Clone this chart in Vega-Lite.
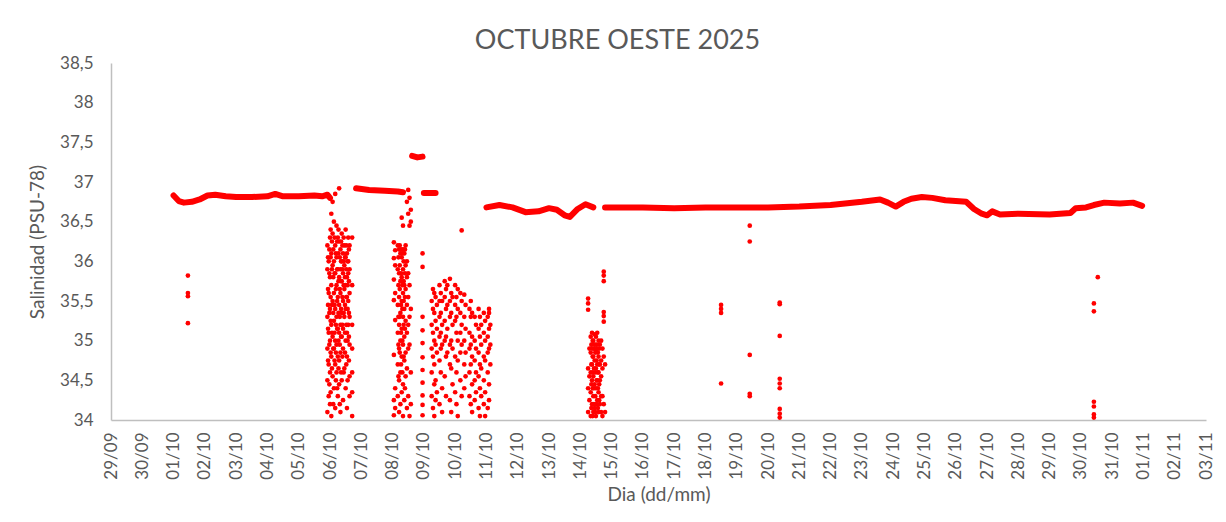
{
  "$schema": "https://vega.github.io/schema/vega-lite/v6.json",
  "width": 1095,
  "height": 357,
  "autosize": {"type": "none"},
  "padding": {"left": 111, "top": 63, "right": 20, "bottom": 102},
  "background": "white",
  "config": {
    "view": {"stroke": null},
    "font": "Lato",
    "axis": {"labelFont": "Lato", "titleFont": "Lato", "labelColor": "#595959", "titleColor": "#595959", "titleFontWeight": "normal", "grid": false, "ticks": false, "domainColor": "#BFBFBF", "domainWidth": 1.5}
  },
  "title": {"text": "OCTUBRE OESTE 2025", "anchor": "middle", "frame": "group", "dx": -41, "offset": -1, "fontSize": 27, "fontWeight": "normal", "color": "#595959", "font": "Lato"},
  "datasets": {
    "linea": [
      {"t":"2025-10-01T00:00","v":36.83,"seg":"A"},
      {"t":"2025-10-01T04:00","v":36.76,"seg":"A"},
      {"t":"2025-10-01T08:00","v":36.74,"seg":"A"},
      {"t":"2025-10-01T14:00","v":36.75,"seg":"A"},
      {"t":"2025-10-01T20:00","v":36.78,"seg":"A"},
      {"t":"2025-10-02T02:00","v":36.83,"seg":"A"},
      {"t":"2025-10-02T08:00","v":36.84,"seg":"A"},
      {"t":"2025-10-02T16:00","v":36.82,"seg":"A"},
      {"t":"2025-10-03T00:00","v":36.81,"seg":"A"},
      {"t":"2025-10-03T12:00","v":36.81,"seg":"A"},
      {"t":"2025-10-04T00:00","v":36.82,"seg":"A"},
      {"t":"2025-10-04T06:00","v":36.85,"seg":"A"},
      {"t":"2025-10-04T12:00","v":36.82,"seg":"A"},
      {"t":"2025-10-05T00:00","v":36.82,"seg":"A"},
      {"t":"2025-10-05T12:00","v":36.83,"seg":"A"},
      {"t":"2025-10-05T18:00","v":36.82,"seg":"A"},
      {"t":"2025-10-05T22:00","v":36.84,"seg":"A"},
      {"t":"2025-10-06T00:00","v":36.8,"seg":"A"},
      {"t":"2025-10-06T20:00","v":36.92,"seg":"B"},
      {"t":"2025-10-07T06:00","v":36.9,"seg":"B"},
      {"t":"2025-10-07T18:00","v":36.89,"seg":"B"},
      {"t":"2025-10-08T04:00","v":36.88,"seg":"B"},
      {"t":"2025-10-08T08:00","v":36.87,"seg":"B"},
      {"t":"2025-10-08T15:00","v":37.33,"seg":"C"},
      {"t":"2025-10-08T19:00","v":37.31,"seg":"C"},
      {"t":"2025-10-08T23:00","v":37.32,"seg":"C"},
      {"t":"2025-10-09T00:00","v":36.86,"seg":"D"},
      {"t":"2025-10-09T09:00","v":36.86,"seg":"D"},
      {"t":"2025-10-11T00:00","v":36.68,"seg":"E"},
      {"t":"2025-10-11T10:00","v":36.71,"seg":"E"},
      {"t":"2025-10-11T20:00","v":36.68,"seg":"E"},
      {"t":"2025-10-12T06:00","v":36.62,"seg":"E"},
      {"t":"2025-10-12T16:00","v":36.63,"seg":"E"},
      {"t":"2025-10-13T00:00","v":36.67,"seg":"E"},
      {"t":"2025-10-13T06:00","v":36.65,"seg":"E"},
      {"t":"2025-10-13T12:00","v":36.58,"seg":"E"},
      {"t":"2025-10-13T16:00","v":36.56,"seg":"E"},
      {"t":"2025-10-13T22:00","v":36.66,"seg":"E"},
      {"t":"2025-10-14T04:00","v":36.72,"seg":"E"},
      {"t":"2025-10-14T10:00","v":36.68,"seg":"E"},
      {"t":"2025-10-14T19:00","v":36.68,"seg":"F"},
      {"t":"2025-10-16T00:00","v":36.68,"seg":"F"},
      {"t":"2025-10-17T00:00","v":36.67,"seg":"F"},
      {"t":"2025-10-18T00:00","v":36.68,"seg":"F"},
      {"t":"2025-10-19T00:00","v":36.68,"seg":"F"},
      {"t":"2025-10-20T00:00","v":36.68,"seg":"F"},
      {"t":"2025-10-21T00:00","v":36.69,"seg":"F"},
      {"t":"2025-10-22T00:00","v":36.71,"seg":"F"},
      {"t":"2025-10-23T00:00","v":36.75,"seg":"F"},
      {"t":"2025-10-23T14:00","v":36.78,"seg":"F"},
      {"t":"2025-10-23T20:00","v":36.74,"seg":"F"},
      {"t":"2025-10-24T02:00","v":36.69,"seg":"F"},
      {"t":"2025-10-24T08:00","v":36.75,"seg":"F"},
      {"t":"2025-10-24T14:00","v":36.79,"seg":"F"},
      {"t":"2025-10-24T22:00","v":36.81,"seg":"F"},
      {"t":"2025-10-25T06:00","v":36.8,"seg":"F"},
      {"t":"2025-10-25T16:00","v":36.77,"seg":"F"},
      {"t":"2025-10-26T00:00","v":36.76,"seg":"F"},
      {"t":"2025-10-26T08:00","v":36.75,"seg":"F"},
      {"t":"2025-10-26T14:00","v":36.66,"seg":"F"},
      {"t":"2025-10-26T20:00","v":36.6,"seg":"F"},
      {"t":"2025-10-27T00:00","v":36.58,"seg":"F"},
      {"t":"2025-10-27T04:00","v":36.63,"seg":"F"},
      {"t":"2025-10-27T10:00","v":36.59,"seg":"F"},
      {"t":"2025-10-28T00:00","v":36.6,"seg":"F"},
      {"t":"2025-10-29T00:00","v":36.59,"seg":"F"},
      {"t":"2025-10-29T16:00","v":36.61,"seg":"F"},
      {"t":"2025-10-29T20:00","v":36.67,"seg":"F"},
      {"t":"2025-10-30T04:00","v":36.68,"seg":"F"},
      {"t":"2025-10-30T10:00","v":36.71,"seg":"F"},
      {"t":"2025-10-30T18:00","v":36.74,"seg":"F"},
      {"t":"2025-10-31T06:00","v":36.73,"seg":"F"},
      {"t":"2025-10-31T16:00","v":36.74,"seg":"F"},
      {"t":"2025-10-31T23:00","v":36.7,"seg":"F"}
    ],
    "puntos": [
      {"t":"2025-10-01T11:00","v":35.82},{"t":"2025-10-01T11:00","v":35.6},{"t":"2025-10-01T11:00","v":35.56},{"t":"2025-10-01T11:00","v":35.22},
      {"t":"2025-10-05T22:00","v":36.2},{"t":"2025-10-05T22:00","v":35.9},{"t":"2025-10-05T22:00","v":35.3},{"t":"2025-10-05T22:00","v":34.9},{"t":"2025-10-05T22:00","v":34.5},{"t":"2025-10-05T22:00","v":34.1},
      {"t":"2025-10-05T22:30","v":36.05},{"t":"2025-10-05T22:30","v":35.65},{"t":"2025-10-05T22:30","v":35.45},{"t":"2025-10-05T22:30","v":35.15},{"t":"2025-10-05T22:30","v":34.75},
      {"t":"2025-10-05T23:00","v":36.0},{"t":"2025-10-05T23:00","v":35.6},{"t":"2025-10-05T23:00","v":35.1},{"t":"2025-10-05T23:00","v":34.7},{"t":"2025-10-05T23:00","v":34.3},
      {"t":"2025-10-05T23:30","v":36.15},{"t":"2025-10-05T23:30","v":35.85},{"t":"2025-10-05T23:30","v":35.35},{"t":"2025-10-05T23:30","v":34.95},{"t":"2025-10-05T23:30","v":34.45},
      {"t":"2025-10-06T00:00","v":36.3},{"t":"2025-10-06T00:00","v":35.8},{"t":"2025-10-06T00:00","v":35.4},{"t":"2025-10-06T00:00","v":35.0},{"t":"2025-10-06T00:00","v":34.6},{"t":"2025-10-06T00:00","v":34.2},
      {"t":"2025-10-06T00:30","v":36.4},{"t":"2025-10-06T00:30","v":36.05},{"t":"2025-10-06T00:30","v":35.55},{"t":"2025-10-06T00:30","v":35.25},{"t":"2025-10-06T00:30","v":34.85},{"t":"2025-10-06T00:30","v":34.35},
      {"t":"2025-10-06T01:00","v":36.6},{"t":"2025-10-06T01:00","v":36.1},{"t":"2025-10-06T01:00","v":35.7},{"t":"2025-10-06T01:00","v":35.2},{"t":"2025-10-06T01:00","v":34.8},{"t":"2025-10-06T01:00","v":34.05},
      {"t":"2025-10-06T01:30","v":36.25},{"t":"2025-10-06T01:30","v":35.9},{"t":"2025-10-06T01:30","v":35.45},{"t":"2025-10-06T01:30","v":35.1},{"t":"2025-10-06T01:30","v":34.65},
      {"t":"2025-10-06T02:00","v":36.75},{"t":"2025-10-06T02:00","v":36.35},{"t":"2025-10-06T02:00","v":35.95},{"t":"2025-10-06T02:00","v":35.5},{"t":"2025-10-06T02:00","v":35.05},{"t":"2025-10-06T02:00","v":34.55},
      {"t":"2025-10-06T02:30","v":36.15},{"t":"2025-10-06T02:30","v":35.8},{"t":"2025-10-06T02:30","v":35.35},{"t":"2025-10-06T02:30","v":34.9},{"t":"2025-10-06T02:30","v":34.2},
      {"t":"2025-10-06T03:00","v":36.5},{"t":"2025-10-06T03:00","v":36.0},{"t":"2025-10-06T03:00","v":35.6},{"t":"2025-10-06T03:00","v":35.25},{"t":"2025-10-06T03:00","v":34.9},{"t":"2025-10-06T03:00","v":34.4},
      {"t":"2025-10-06T03:30","v":36.3},{"t":"2025-10-06T03:30","v":35.85},{"t":"2025-10-06T03:30","v":35.45},{"t":"2025-10-06T03:30","v":35.1},{"t":"2025-10-06T03:30","v":34.75},
      {"t":"2025-10-06T04:00","v":36.85},{"t":"2025-10-06T04:00","v":36.2},{"t":"2025-10-06T04:00","v":35.85},{"t":"2025-10-06T04:00","v":35.4},{"t":"2025-10-06T04:00","v":35.0},{"t":"2025-10-06T04:00","v":34.7},{"t":"2025-10-06T04:00","v":34.15},
      {"t":"2025-10-06T04:30","v":36.1},{"t":"2025-10-06T04:30","v":35.65},{"t":"2025-10-06T04:30","v":35.2},{"t":"2025-10-06T04:30","v":34.85},{"t":"2025-10-06T04:30","v":34.5},
      {"t":"2025-10-06T05:00","v":36.45},{"t":"2025-10-06T05:00","v":36.05},{"t":"2025-10-06T05:00","v":35.7},{"t":"2025-10-06T05:00","v":35.3},{"t":"2025-10-06T05:00","v":34.95},{"t":"2025-10-06T05:00","v":34.6},
      {"t":"2025-10-06T05:30","v":36.25},{"t":"2025-10-06T05:30","v":35.9},{"t":"2025-10-06T05:30","v":35.5},{"t":"2025-10-06T05:30","v":35.15},{"t":"2025-10-06T05:30","v":34.4},
      {"t":"2025-10-06T06:00","v":36.3},{"t":"2025-10-06T06:00","v":35.9},{"t":"2025-10-06T06:00","v":35.55},{"t":"2025-10-06T06:00","v":35.15},{"t":"2025-10-06T06:00","v":34.8},{"t":"2025-10-06T06:00","v":34.3},
      {"t":"2025-10-06T06:30","v":36.4},{"t":"2025-10-06T06:30","v":36.1},{"t":"2025-10-06T06:30","v":35.75},{"t":"2025-10-06T06:30","v":35.35},{"t":"2025-10-06T06:30","v":35.0},{"t":"2025-10-06T06:30","v":34.65},
      {"t":"2025-10-06T07:00","v":36.92},{"t":"2025-10-06T07:00","v":36.25},{"t":"2025-10-06T07:00","v":35.8},{"t":"2025-10-06T07:00","v":35.45},{"t":"2025-10-06T07:00","v":35.1},{"t":"2025-10-06T07:00","v":34.75},{"t":"2025-10-06T07:00","v":34.45},
      {"t":"2025-10-06T07:30","v":36.05},{"t":"2025-10-06T07:30","v":35.65},{"t":"2025-10-06T07:30","v":35.3},{"t":"2025-10-06T07:30","v":34.95},{"t":"2025-10-06T07:30","v":34.2},
      {"t":"2025-10-06T08:00","v":36.15},{"t":"2025-10-06T08:00","v":35.9},{"t":"2025-10-06T08:00","v":35.6},{"t":"2025-10-06T08:00","v":35.2},{"t":"2025-10-06T08:00","v":34.85},{"t":"2025-10-06T08:00","v":34.1},
      {"t":"2025-10-06T08:30","v":36.25},{"t":"2025-10-06T08:30","v":36.0},{"t":"2025-10-06T08:30","v":35.75},{"t":"2025-10-06T08:30","v":35.4},{"t":"2025-10-06T08:30","v":35.05},{"t":"2025-10-06T08:30","v":34.6},
      {"t":"2025-10-06T09:00","v":36.35},{"t":"2025-10-06T09:00","v":36.0},{"t":"2025-10-06T09:00","v":35.75},{"t":"2025-10-06T09:00","v":35.35},{"t":"2025-10-06T09:00","v":35.05},{"t":"2025-10-06T09:00","v":34.5},
      {"t":"2025-10-06T09:30","v":36.2},{"t":"2025-10-06T09:30","v":35.9},{"t":"2025-10-06T09:30","v":35.55},{"t":"2025-10-06T09:30","v":35.2},{"t":"2025-10-06T09:30","v":34.8},
      {"t":"2025-10-06T10:00","v":36.1},{"t":"2025-10-06T10:00","v":35.85},{"t":"2025-10-06T10:00","v":35.5},{"t":"2025-10-06T10:00","v":35.15},{"t":"2025-10-06T10:00","v":34.9},{"t":"2025-10-06T10:00","v":34.25},
      {"t":"2025-10-06T10:30","v":36.3},{"t":"2025-10-06T10:30","v":36.0},{"t":"2025-10-06T10:30","v":35.7},{"t":"2025-10-06T10:30","v":35.35},{"t":"2025-10-06T10:30","v":34.6},
      {"t":"2025-10-06T11:00","v":36.2},{"t":"2025-10-06T11:00","v":35.95},{"t":"2025-10-06T11:00","v":35.65},{"t":"2025-10-06T11:00","v":35.3},{"t":"2025-10-06T11:00","v":34.65},
      {"t":"2025-10-06T11:30","v":36.05},{"t":"2025-10-06T11:30","v":35.8},{"t":"2025-10-06T11:30","v":35.45},{"t":"2025-10-06T11:30","v":35.1},{"t":"2025-10-06T11:30","v":34.85},
      {"t":"2025-10-06T12:00","v":36.4},{"t":"2025-10-06T12:00","v":36.05},{"t":"2025-10-06T12:00","v":35.7},{"t":"2025-10-06T12:00","v":35.4},{"t":"2025-10-06T12:00","v":35.0},{"t":"2025-10-06T12:00","v":34.4},
      {"t":"2025-10-06T12:30","v":36.2},{"t":"2025-10-06T12:30","v":35.9},{"t":"2025-10-06T12:30","v":35.55},{"t":"2025-10-06T12:30","v":35.2},{"t":"2025-10-06T12:30","v":34.7},
      {"t":"2025-10-06T13:00","v":36.1},{"t":"2025-10-06T13:00","v":35.8},{"t":"2025-10-06T13:00","v":35.55},{"t":"2025-10-06T13:00","v":35.1},{"t":"2025-10-06T13:00","v":34.8},{"t":"2025-10-06T13:00","v":34.15},
      {"t":"2025-10-06T13:30","v":36.0},{"t":"2025-10-06T13:30","v":35.7},{"t":"2025-10-06T13:30","v":35.4},{"t":"2025-10-06T13:30","v":35.0},{"t":"2025-10-06T13:30","v":34.5},
      {"t":"2025-10-06T14:00","v":36.3},{"t":"2025-10-06T14:00","v":36.0},{"t":"2025-10-06T14:00","v":35.85},{"t":"2025-10-06T14:00","v":35.5},{"t":"2025-10-06T14:00","v":35.2},
      {"t":"2025-10-06T14:30","v":36.15},{"t":"2025-10-06T14:30","v":35.75},{"t":"2025-10-06T14:30","v":35.35},{"t":"2025-10-06T14:30","v":35.05},{"t":"2025-10-06T14:30","v":34.75},
      {"t":"2025-10-06T15:00","v":36.2},{"t":"2025-10-06T15:00","v":35.9},{"t":"2025-10-06T15:00","v":35.6},{"t":"2025-10-06T15:00","v":35.3},{"t":"2025-10-06T15:00","v":34.95},{"t":"2025-10-06T15:00","v":34.55},{"t":"2025-10-06T15:00","v":34.3},
      {"t":"2025-10-06T17:00","v":36.3},{"t":"2025-10-06T17:00","v":35.7},{"t":"2025-10-06T17:00","v":35.2},{"t":"2025-10-06T17:00","v":34.9},{"t":"2025-10-06T17:00","v":34.6},{"t":"2025-10-06T17:00","v":34.35},{"t":"2025-10-06T17:00","v":34.05},
      {"t":"2025-10-08T01:00","v":36.24},{"t":"2025-10-08T01:00","v":36.04},{"t":"2025-10-08T01:00","v":35.77},{"t":"2025-10-08T01:00","v":35.51},{"t":"2025-10-08T01:00","v":34.82},{"t":"2025-10-08T01:00","v":34.25},{"t":"2025-10-08T01:00","v":34.06},
      {"t":"2025-10-08T02:00","v":36.14},{"t":"2025-10-08T02:00","v":35.95},{"t":"2025-10-08T02:00","v":35.6},{"t":"2025-10-08T02:00","v":35.26},{"t":"2025-10-08T02:00","v":34.4},{"t":"2025-10-08T02:00","v":34.15},
      {"t":"2025-10-08T04:00","v":36.2},{"t":"2025-10-08T04:00","v":35.9},{"t":"2025-10-08T04:00","v":35.45},{"t":"2025-10-08T04:00","v":35.1},{"t":"2025-10-08T04:00","v":34.7},{"t":"2025-10-08T04:00","v":34.3},
      {"t":"2025-10-08T04:30","v":36.05},{"t":"2025-10-08T04:30","v":35.7},{"t":"2025-10-08T04:30","v":35.3},{"t":"2025-10-08T04:30","v":34.95},{"t":"2025-10-08T04:30","v":34.55},
      {"t":"2025-10-08T05:00","v":36.15},{"t":"2025-10-08T05:00","v":35.85},{"t":"2025-10-08T05:00","v":35.55},{"t":"2025-10-08T05:00","v":35.2},{"t":"2025-10-08T05:00","v":34.9},{"t":"2025-10-08T05:00","v":34.5},{"t":"2025-10-08T05:00","v":34.1},
      {"t":"2025-10-08T05:30","v":36.2},{"t":"2025-10-08T05:30","v":35.95},{"t":"2025-10-08T05:30","v":35.65},{"t":"2025-10-08T05:30","v":35.3},{"t":"2025-10-08T05:30","v":34.85},
      {"t":"2025-10-08T06:00","v":36.1},{"t":"2025-10-08T06:00","v":35.75},{"t":"2025-10-08T06:00","v":35.35},{"t":"2025-10-08T06:00","v":35.0},{"t":"2025-10-08T06:00","v":34.6},{"t":"2025-10-08T06:00","v":34.2},
      {"t":"2025-10-08T06:30","v":36.15},{"t":"2025-10-08T06:30","v":35.85},{"t":"2025-10-08T06:30","v":35.45},{"t":"2025-10-08T06:30","v":35.1},{"t":"2025-10-08T06:30","v":34.7},
      {"t":"2025-10-08T07:00","v":36.55},{"t":"2025-10-08T07:00","v":36.05},{"t":"2025-10-08T07:00","v":35.8},{"t":"2025-10-08T07:00","v":35.5},{"t":"2025-10-08T07:00","v":35.15},{"t":"2025-10-08T07:00","v":34.8},{"t":"2025-10-08T07:00","v":34.35},
      {"t":"2025-10-08T07:30","v":36.1},{"t":"2025-10-08T07:30","v":35.7},{"t":"2025-10-08T07:30","v":35.4},{"t":"2025-10-08T07:30","v":35.0},{"t":"2025-10-08T07:30","v":34.6},
      {"t":"2025-10-08T08:00","v":36.45},{"t":"2025-10-08T08:00","v":36.15},{"t":"2025-10-08T08:00","v":35.9},{"t":"2025-10-08T08:00","v":35.6},{"t":"2025-10-08T08:00","v":35.3},{"t":"2025-10-08T08:00","v":34.95},{"t":"2025-10-08T08:00","v":34.45},{"t":"2025-10-08T08:00","v":34.05},
      {"t":"2025-10-08T08:30","v":36.0},{"t":"2025-10-08T08:30","v":35.75},{"t":"2025-10-08T08:30","v":35.5},{"t":"2025-10-08T08:30","v":35.2},{"t":"2025-10-08T08:30","v":34.8},
      {"t":"2025-10-08T09:00","v":36.1},{"t":"2025-10-08T09:00","v":35.7},{"t":"2025-10-08T09:00","v":35.4},{"t":"2025-10-08T09:00","v":35.05},{"t":"2025-10-08T09:00","v":34.75},{"t":"2025-10-08T09:00","v":34.25},
      {"t":"2025-10-08T09:30","v":36.15},{"t":"2025-10-08T09:30","v":35.85},{"t":"2025-10-08T09:30","v":35.55},{"t":"2025-10-08T09:30","v":35.15},{"t":"2025-10-08T09:30","v":34.4},
      {"t":"2025-10-08T10:00","v":36.2},{"t":"2025-10-08T10:00","v":35.95},{"t":"2025-10-08T10:00","v":35.65},{"t":"2025-10-08T10:00","v":35.25},{"t":"2025-10-08T10:00","v":34.85},{"t":"2025-10-08T10:00","v":34.55},
      {"t":"2025-10-08T11:00","v":36.75},{"t":"2025-10-08T11:00","v":36.0},{"t":"2025-10-08T11:00","v":35.8},{"t":"2025-10-08T11:00","v":35.45},{"t":"2025-10-08T11:00","v":35.1},{"t":"2025-10-08T11:00","v":34.65},{"t":"2025-10-08T11:00","v":34.15},
      {"t":"2025-10-08T12:00","v":36.9},{"t":"2025-10-08T12:00","v":36.6},{"t":"2025-10-08T12:00","v":35.85},{"t":"2025-10-08T12:00","v":35.55},{"t":"2025-10-08T12:00","v":35.2},{"t":"2025-10-08T12:00","v":34.9},{"t":"2025-10-08T12:00","v":34.3},
      {"t":"2025-10-08T13:00","v":36.8},{"t":"2025-10-08T13:00","v":36.45},{"t":"2025-10-08T13:00","v":35.7},{"t":"2025-10-08T13:00","v":35.3},{"t":"2025-10-08T13:00","v":34.95},{"t":"2025-10-08T13:00","v":34.05},
      {"t":"2025-10-08T14:00","v":36.65},{"t":"2025-10-08T14:00","v":36.5},{"t":"2025-10-08T14:00","v":35.4},{"t":"2025-10-08T14:00","v":34.6},{"t":"2025-10-08T14:00","v":34.2},
      {"t":"2025-10-08T23:00","v":36.1},{"t":"2025-10-08T23:00","v":35.93},{"t":"2025-10-08T23:00","v":35.3},{"t":"2025-10-08T23:00","v":35.13},{"t":"2025-10-08T23:00","v":34.97},{"t":"2025-10-08T23:00","v":34.79},{"t":"2025-10-08T23:00","v":34.63},{"t":"2025-10-08T23:00","v":34.47},{"t":"2025-10-08T23:00","v":34.31},{"t":"2025-10-08T23:00","v":34.19},{"t":"2025-10-08T23:00","v":34.06},
      {"t":"2025-10-09T06:00","v":35.5},{"t":"2025-10-09T06:00","v":35.2},{"t":"2025-10-09T06:00","v":34.9},{"t":"2025-10-09T06:00","v":34.6},{"t":"2025-10-09T06:00","v":34.3},
      {"t":"2025-10-09T07:00","v":35.65},{"t":"2025-10-09T07:00","v":35.4},{"t":"2025-10-09T07:00","v":35.1},{"t":"2025-10-09T07:00","v":34.8},{"t":"2025-10-09T07:00","v":34.15},
      {"t":"2025-10-09T08:00","v":35.6},{"t":"2025-10-09T08:00","v":35.35},{"t":"2025-10-09T08:00","v":35.0},{"t":"2025-10-09T08:00","v":34.7},{"t":"2025-10-09T08:00","v":34.45},{"t":"2025-10-09T08:00","v":34.05},
      {"t":"2025-10-09T09:00","v":35.55},{"t":"2025-10-09T09:00","v":35.25},{"t":"2025-10-09T09:00","v":34.95},{"t":"2025-10-09T09:00","v":34.5},{"t":"2025-10-09T09:00","v":34.25},
      {"t":"2025-10-09T10:00","v":35.45},{"t":"2025-10-09T10:00","v":35.15},{"t":"2025-10-09T10:00","v":34.85},{"t":"2025-10-09T10:00","v":34.35},
      {"t":"2025-10-09T12:00","v":35.7},{"t":"2025-10-09T12:00","v":35.5},{"t":"2025-10-09T12:00","v":35.3},{"t":"2025-10-09T12:00","v":35.05},{"t":"2025-10-09T12:00","v":34.75},{"t":"2025-10-09T12:00","v":34.2},
      {"t":"2025-10-09T13:00","v":35.6},{"t":"2025-10-09T13:00","v":35.35},{"t":"2025-10-09T13:00","v":35.1},{"t":"2025-10-09T13:00","v":34.9},{"t":"2025-10-09T13:00","v":34.6},
      {"t":"2025-10-09T14:00","v":35.5},{"t":"2025-10-09T14:00","v":35.2},{"t":"2025-10-09T14:00","v":34.95},{"t":"2025-10-09T14:00","v":34.4},{"t":"2025-10-09T14:00","v":34.1},
      {"t":"2025-10-09T16:00","v":35.75},{"t":"2025-10-09T16:00","v":35.55},{"t":"2025-10-09T16:00","v":35.25},{"t":"2025-10-09T16:00","v":35.0},{"t":"2025-10-09T16:00","v":34.55},
      {"t":"2025-10-09T17:00","v":35.65},{"t":"2025-10-09T17:00","v":35.4},{"t":"2025-10-09T17:00","v":35.05},{"t":"2025-10-09T17:00","v":34.8},{"t":"2025-10-09T17:00","v":34.3},
      {"t":"2025-10-09T18:00","v":35.7},{"t":"2025-10-09T18:00","v":35.45},{"t":"2025-10-09T18:00","v":35.15},{"t":"2025-10-09T18:00","v":34.85},
      {"t":"2025-10-09T20:00","v":35.78},{"t":"2025-10-09T20:00","v":35.5},{"t":"2025-10-09T20:00","v":35.3},{"t":"2025-10-09T20:00","v":34.95},{"t":"2025-10-09T20:00","v":34.7},{"t":"2025-10-09T20:00","v":34.25},
      {"t":"2025-10-09T21:00","v":35.6},{"t":"2025-10-09T21:00","v":35.35},{"t":"2025-10-09T21:00","v":35.0},{"t":"2025-10-09T21:00","v":34.65},{"t":"2025-10-09T21:00","v":34.1},
      {"t":"2025-10-09T22:00","v":35.55},{"t":"2025-10-09T22:00","v":35.2},{"t":"2025-10-09T22:00","v":34.9},{"t":"2025-10-09T22:00","v":34.45},
      {"t":"2025-10-10T00:00","v":35.7},{"t":"2025-10-10T00:00","v":35.45},{"t":"2025-10-10T00:00","v":35.25},{"t":"2025-10-10T00:00","v":34.8},{"t":"2025-10-10T00:00","v":34.35},
      {"t":"2025-10-10T01:00","v":35.55},{"t":"2025-10-10T01:00","v":35.3},{"t":"2025-10-10T01:00","v":35.1},{"t":"2025-10-10T01:00","v":34.6},{"t":"2025-10-10T01:00","v":34.2},
      {"t":"2025-10-10T02:00","v":35.65},{"t":"2025-10-10T02:00","v":35.4},{"t":"2025-10-10T02:00","v":35.0},{"t":"2025-10-10T02:00","v":34.75},{"t":"2025-10-10T02:00","v":34.05},
      {"t":"2025-10-10T04:00","v":35.6},{"t":"2025-10-10T04:00","v":35.35},{"t":"2025-10-10T04:00","v":35.1},{"t":"2025-10-10T04:00","v":34.85},{"t":"2025-10-10T04:00","v":34.5},
      {"t":"2025-10-10T05:00","v":36.39},{"t":"2025-10-10T05:00","v":35.5},{"t":"2025-10-10T05:00","v":35.2},{"t":"2025-10-10T05:00","v":34.95},{"t":"2025-10-10T05:00","v":34.3},
      {"t":"2025-10-10T07:00","v":35.58},{"t":"2025-10-10T07:00","v":35.3},{"t":"2025-10-10T07:00","v":35.0},{"t":"2025-10-10T07:00","v":34.7},{"t":"2025-10-10T07:00","v":34.4},
      {"t":"2025-10-10T08:00","v":35.45},{"t":"2025-10-10T08:00","v":35.15},{"t":"2025-10-10T08:00","v":34.85},{"t":"2025-10-10T08:00","v":34.55},
      {"t":"2025-10-10T11:00","v":35.4},{"t":"2025-10-10T11:00","v":35.1},{"t":"2025-10-10T11:00","v":34.9},{"t":"2025-10-10T11:00","v":34.6},{"t":"2025-10-10T11:00","v":34.3},
      {"t":"2025-10-10T12:00","v":35.5},{"t":"2025-10-10T12:00","v":35.3},{"t":"2025-10-10T12:00","v":34.95},{"t":"2025-10-10T12:00","v":34.7},{"t":"2025-10-10T12:00","v":34.2},
      {"t":"2025-10-10T13:00","v":35.35},{"t":"2025-10-10T13:00","v":35.05},{"t":"2025-10-10T13:00","v":34.8},{"t":"2025-10-10T13:00","v":34.45},{"t":"2025-10-10T13:00","v":34.1},
      {"t":"2025-10-10T15:00","v":35.3},{"t":"2025-10-10T15:00","v":35.0},{"t":"2025-10-10T15:00","v":34.75},{"t":"2025-10-10T15:00","v":34.5},{"t":"2025-10-10T15:00","v":34.25},
      {"t":"2025-10-10T16:00","v":35.2},{"t":"2025-10-10T16:00","v":34.9},{"t":"2025-10-10T16:00","v":34.6},{"t":"2025-10-10T16:00","v":34.35},
      {"t":"2025-10-10T18:00","v":35.4},{"t":"2025-10-10T18:00","v":35.15},{"t":"2025-10-10T18:00","v":34.85},{"t":"2025-10-10T18:00","v":34.55},{"t":"2025-10-10T18:00","v":34.15},
      {"t":"2025-10-10T19:00","v":35.3},{"t":"2025-10-10T19:00","v":35.05},{"t":"2025-10-10T19:00","v":34.7},{"t":"2025-10-10T19:00","v":34.4},{"t":"2025-10-10T19:00","v":34.05},
      {"t":"2025-10-10T20:00","v":35.2},{"t":"2025-10-10T20:00","v":34.95},{"t":"2025-10-10T20:00","v":34.65},{"t":"2025-10-10T20:00","v":34.3},
      {"t":"2025-10-10T22:00","v":35.35},{"t":"2025-10-10T22:00","v":35.1},{"t":"2025-10-10T22:00","v":34.8},{"t":"2025-10-10T22:00","v":34.5},{"t":"2025-10-10T22:00","v":34.2},
      {"t":"2025-10-10T23:00","v":35.25},{"t":"2025-10-10T23:00","v":35.0},{"t":"2025-10-10T23:00","v":34.75},{"t":"2025-10-10T23:00","v":34.35},{"t":"2025-10-10T23:00","v":34.05},
      {"t":"2025-10-11T01:00","v":35.3},{"t":"2025-10-11T01:00","v":35.05},{"t":"2025-10-11T01:00","v":34.85},{"t":"2025-10-11T01:00","v":34.6},{"t":"2025-10-11T01:00","v":34.15},
      {"t":"2025-10-11T02:00","v":35.4},{"t":"2025-10-11T02:00","v":35.35},{"t":"2025-10-11T02:00","v":35.15},{"t":"2025-10-11T02:00","v":34.9},{"t":"2025-10-11T02:00","v":34.45},{"t":"2025-10-11T02:00","v":34.25},
      {"t":"2025-10-11T03:00","v":35.2},{"t":"2025-10-11T03:00","v":34.95},{"t":"2025-10-11T03:00","v":34.7},
      {"t":"2025-10-14T06:00","v":35.53},{"t":"2025-10-14T06:00","v":35.47},{"t":"2025-10-14T06:00","v":35.39},{"t":"2025-10-14T06:00","v":34.65},{"t":"2025-10-14T06:00","v":34.4},{"t":"2025-10-14T06:00","v":34.1},
      {"t":"2025-10-14T07:00","v":34.9},{"t":"2025-10-14T07:00","v":34.55},{"t":"2025-10-14T07:00","v":34.25},
      {"t":"2025-10-14T08:00","v":35.05},{"t":"2025-10-14T08:00","v":34.85},{"t":"2025-10-14T08:00","v":34.6},{"t":"2025-10-14T08:00","v":34.35},{"t":"2025-10-14T08:00","v":34.05},
      {"t":"2025-10-14T08:30","v":34.95},{"t":"2025-10-14T08:30","v":34.7},{"t":"2025-10-14T08:30","v":34.45},{"t":"2025-10-14T08:30","v":34.15},
      {"t":"2025-10-14T09:00","v":35.1},{"t":"2025-10-14T09:00","v":34.9},{"t":"2025-10-14T09:00","v":34.7},{"t":"2025-10-14T09:00","v":34.5},{"t":"2025-10-14T09:00","v":34.2},
      {"t":"2025-10-14T09:30","v":35.0},{"t":"2025-10-14T09:30","v":34.8},{"t":"2025-10-14T09:30","v":34.6},{"t":"2025-10-14T09:30","v":34.4},{"t":"2025-10-14T09:30","v":34.05},
      {"t":"2025-10-14T10:00","v":35.0},{"t":"2025-10-14T10:00","v":34.8},{"t":"2025-10-14T10:00","v":34.55},{"t":"2025-10-14T10:00","v":34.3},{"t":"2025-10-14T10:00","v":34.1},
      {"t":"2025-10-14T10:30","v":34.9},{"t":"2025-10-14T10:30","v":34.65},{"t":"2025-10-14T10:30","v":34.4},{"t":"2025-10-14T10:30","v":34.2},
      {"t":"2025-10-14T11:00","v":35.08},{"t":"2025-10-14T11:00","v":34.95},{"t":"2025-10-14T11:00","v":34.75},{"t":"2025-10-14T11:00","v":34.45},{"t":"2025-10-14T11:00","v":34.15},
      {"t":"2025-10-14T11:30","v":34.85},{"t":"2025-10-14T11:30","v":34.6},{"t":"2025-10-14T11:30","v":34.3},{"t":"2025-10-14T11:30","v":34.1},
      {"t":"2025-10-14T12:00","v":35.05},{"t":"2025-10-14T12:00","v":34.88},{"t":"2025-10-14T12:00","v":34.65},{"t":"2025-10-14T12:00","v":34.4},{"t":"2025-10-14T12:00","v":34.05},
      {"t":"2025-10-14T12:30","v":34.95},{"t":"2025-10-14T12:30","v":34.75},{"t":"2025-10-14T12:30","v":34.5},{"t":"2025-10-14T12:30","v":34.2},
      {"t":"2025-10-14T13:00","v":35.1},{"t":"2025-10-14T13:00","v":34.9},{"t":"2025-10-14T13:00","v":34.7},{"t":"2025-10-14T13:00","v":34.5},{"t":"2025-10-14T13:00","v":34.25},
      {"t":"2025-10-14T13:30","v":34.85},{"t":"2025-10-14T13:30","v":34.6},{"t":"2025-10-14T13:30","v":34.4},{"t":"2025-10-14T13:30","v":34.15},
      {"t":"2025-10-14T14:00","v":35.0},{"t":"2025-10-14T14:00","v":34.8},{"t":"2025-10-14T14:00","v":34.6},{"t":"2025-10-14T14:00","v":34.35},{"t":"2025-10-14T14:00","v":34.1},
      {"t":"2025-10-14T14:30","v":34.9},{"t":"2025-10-14T14:30","v":34.7},{"t":"2025-10-14T14:30","v":34.45},{"t":"2025-10-14T14:30","v":34.25},
      {"t":"2025-10-14T15:00","v":34.95},{"t":"2025-10-14T15:00","v":34.7},{"t":"2025-10-14T15:00","v":34.5},{"t":"2025-10-14T15:00","v":34.2},
      {"t":"2025-10-14T16:00","v":35.0},{"t":"2025-10-14T16:00","v":34.75},{"t":"2025-10-14T16:00","v":34.55},{"t":"2025-10-14T16:00","v":34.3},{"t":"2025-10-14T16:00","v":34.1},
      {"t":"2025-10-14T17:00","v":34.9},{"t":"2025-10-14T17:00","v":34.65},{"t":"2025-10-14T17:00","v":34.3},{"t":"2025-10-14T17:00","v":34.05},
      {"t":"2025-10-14T18:00","v":35.87},{"t":"2025-10-14T18:00","v":35.82},{"t":"2025-10-14T18:00","v":35.75},{"t":"2025-10-14T18:00","v":35.36},{"t":"2025-10-14T18:00","v":35.31},{"t":"2025-10-14T18:00","v":35.24},{"t":"2025-10-14T18:00","v":34.8},{"t":"2025-10-14T18:00","v":34.2},
      {"t":"2025-10-14T19:00","v":34.7},{"t":"2025-10-14T19:00","v":34.1},
      {"t":"2025-10-18T12:00","v":35.45},{"t":"2025-10-18T12:00","v":35.4},{"t":"2025-10-18T12:00","v":35.35},{"t":"2025-10-18T12:00","v":34.46},
      {"t":"2025-10-19T10:00","v":36.45},{"t":"2025-10-19T10:00","v":36.25},{"t":"2025-10-19T10:00","v":34.82},{"t":"2025-10-19T10:00","v":34.33},{"t":"2025-10-19T10:00","v":34.3},
      {"t":"2025-10-20T09:00","v":35.48},{"t":"2025-10-20T09:00","v":35.46},{"t":"2025-10-20T09:00","v":35.06},{"t":"2025-10-20T09:00","v":34.52},{"t":"2025-10-20T09:00","v":34.46},{"t":"2025-10-20T09:00","v":34.4},{"t":"2025-10-20T09:00","v":34.14},{"t":"2025-10-20T09:00","v":34.08},{"t":"2025-10-20T09:00","v":34.03},
      {"t":"2025-10-30T13:00","v":35.8},
      {"t":"2025-10-30T10:00","v":35.47},{"t":"2025-10-30T10:00","v":35.37},{"t":"2025-10-30T10:00","v":34.23},{"t":"2025-10-30T10:00","v":34.17},{"t":"2025-10-30T10:00","v":34.07},{"t":"2025-10-30T10:00","v":34.03}
    ]
  },
  "encoding": {
    "x": {
      "field": "t", "type": "temporal",
      "scale": {"domain": [{"year": 2025, "month": 9, "date": 29}, {"year": 2025, "month": 11, "date": 3}], "nice": false},
      "axis": {"title": "Dia (dd/mm)", "format": "%d/%m", "tickCount": {"interval": "day", "step": 1}, "labelAngle": -90, "labelFontSize": 17, "labelPadding": 12, "titleFontSize": 19, "titlePadding": 6, "labelOverlap": false, "labelFlush": false}
    },
    "y": {
      "field": "v", "type": "quantitative",
      "scale": {"domain": [34, 38.5], "nice": false, "zero": false},
      "axis": {"title": "Salinidad (PSU-78)", "values": [34, 34.5, 35, 35.5, 36, 36.5, 37, 37.5, 38, 38.5], "labelExpr": "replace(format(datum.value, '.1~f'), '.', ',')", "labelFontSize": 17, "labelPadding": 18, "titleFontSize": 19, "titlePadding": 12}
    }
  },
  "layer": [
    {
      "data": {"name": "linea"},
      "mark": {"type": "line", "color": "#FF0000", "strokeWidth": 6, "strokeCap": "round", "strokeJoin": "round", "clip": true},
      "encoding": {"detail": {"field": "seg"}}
    },
    {
      "data": {"name": "puntos"},
      "mark": {"type": "circle", "color": "#FF0000", "size": 22, "opacity": 1, "clip": true}
    }
  ]
}
